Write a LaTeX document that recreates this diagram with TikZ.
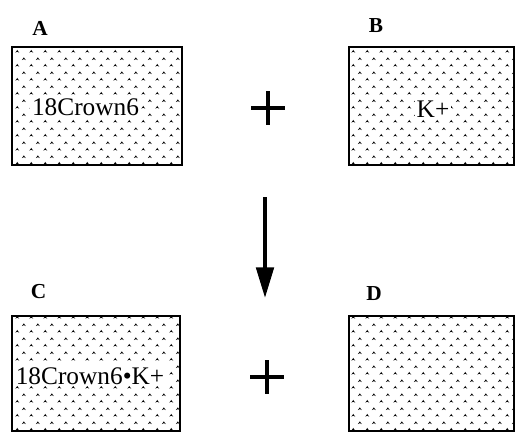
\documentclass[tikz,border=0pt]{standalone}
\usepackage{fontspec}
\setmainfont{Liberation Serif}
\usetikzlibrary{patterns,arrows.meta}

\newcommand\caretmark[2]{%
	\pgfpathmoveto{\pgfpoint{#1-1.6pt}{#2}}%
	\pgfpathlineto{\pgfpoint{#1}{#2+2.2pt}}%
	\pgfpathlineto{\pgfpoint{#1+1.6pt}{#2}}%
	\pgfpathlineto{\pgfpoint{#1}{#2+0.8pt}}%
	\pgfpathclose}
\pgfdeclarepatternformonly{carets}{\pgfqpoint{0pt}{0pt}}{\pgfqpoint{10.5pt}{10.5pt}}{\pgfqpoint{10.5pt}{10.5pt}}{%
	\caretmark{2.6pt}{2.6pt}\caretmark{7.85pt}{7.85pt}\pgfusepath{fill}}

\begin{document}
\begin{tikzpicture}[x=0.75pt, y=-0.75pt,
	cell/.style={draw, line width=1.8pt, pattern=carets, inner sep=0pt},
	tag/.style={anchor=base, font=\fontsize{16}{18}\selectfont\bfseries},
	chem/.style={anchor=base, fill=white, inner sep=1.5pt, font=\fontsize{19}{22}\selectfont},
	plussign/.style={minimum size=25.5pt, inner sep=0pt, path picture={
		\draw[line width=3.2pt] (path picture bounding box.north) -- (path picture bounding box.south)
			(path picture bounding box.west) -- (path picture bounding box.east);}},
	flow/.style={line width=3pt, -{Triangle[width=13pt, length=23pt]}}]
	\useasboundingbox (0,0) rectangle (516,433);
	% the four boxes
	\node[cell, minimum width=127.5pt, minimum height=88.5pt] (boxA) at (97,106) {};
	\node[cell, minimum width=123.75pt, minimum height=88.5pt] (boxB) at (431.5,106) {};
	\node[cell, minimum width=126pt, minimum height=86.25pt] (boxC) at (96,373.5) {};
	\node[cell, minimum width=123.75pt, minimum height=86.25pt] (boxD) at (431.5,373.5) {};
	% contents
	\node[chem] (nA) at (85.5,115) {18Crown6};
	\node[chem] (nB) at (433,117) {K+};
	\node[chem] (nC) at (90,384) {18Crown6•K+};
	% letters
	\node[tag] (lA) at (40,35) {A};
	\node[tag] (lB) at (376,32) {B};
	\node[tag] (lC) at (38.5,298) {C};
	\node[tag] (lD) at (374,300) {D};
	% plus signs and reaction arrow
	\node[plussign] (plus1) at (268,108) {};
	\node[plussign] (plus2) at (267,377) {};
	\coordinate (arrtop) at (265,197); \coordinate (arrbot) at (265,298);
	\draw[flow] (arrtop) -- (arrbot);
\end{tikzpicture}
\end{document}
